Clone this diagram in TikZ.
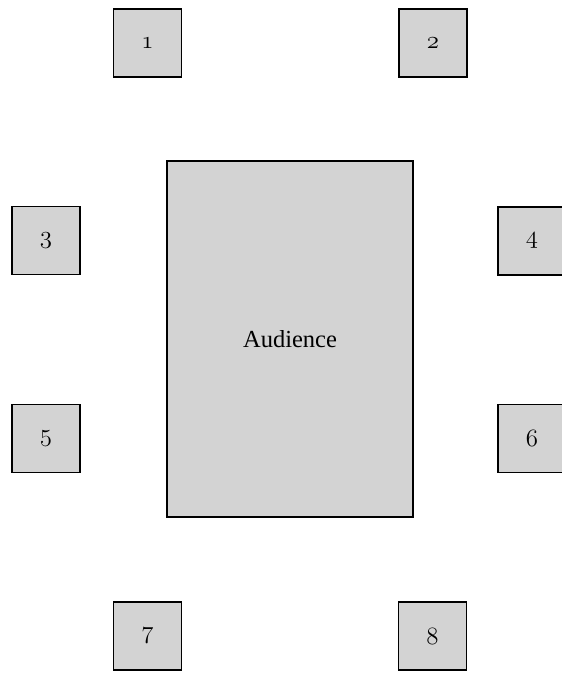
\documentclass[tikz,border=0pt]{standalone}
\usepackage{fontspec}
\setmainfont{Liberation Serif}
\newcommand{\osnum}[1]{{\usefont{OML}{cmm}{m}{it}\fontsize{28}{30}\selectfont #1}}
\begin{document}
\begin{tikzpicture}[x=1pt,y=-1pt,
  seat/.style={draw=black, line width=1.8pt, fill={rgb,255:red,211;green,211;blue,211}, minimum width=68pt, minimum height=68pt, inner sep=0pt},
  audbox/.style={draw=black, line width=1.8pt, fill={rgb,255:red,211;green,211;blue,211}, minimum width=246pt, minimum height=356pt, inner sep=0pt, font=\fontsize{24.5}{27}\selectfont}]
\useasboundingbox (0,0) rectangle (562,673);
\node[audbox] (aud) at (290,339) {Audience};
\node[seat] (s1) at (147.5,43) {\osnum{1}};
\node[seat] (s2) at (433,43) {\osnum{2}};
\node[seat] (s3) at (46,240.5) {\osnum{3}};
\node[seat] (s4) at (532,241) {\osnum{4}};
\node[seat] (s5) at (46,438.5) {\osnum{5}};
\node[seat] (s6) at (532,438.5) {\osnum{6}};
\node[seat] (s7) at (147.5,636) {\osnum{7}};
\node[seat] (s8) at (432.5,636) {\osnum{8}};
\end{tikzpicture}
\end{document}
